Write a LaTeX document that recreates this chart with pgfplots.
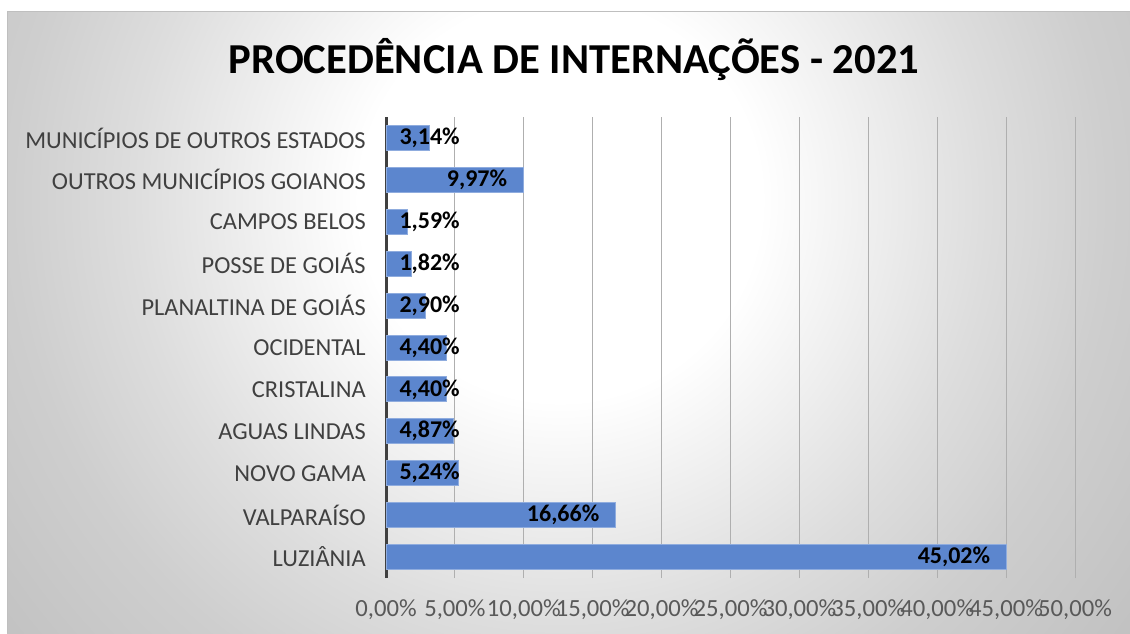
\documentclass[border=0pt]{standalone}
\usepackage{pgfplots}
\pgfplotsset{compat=1.18}
\usepackage{pgfplotstable}
\usepackage{fontspec}
\setmainfont{Carlito}

\definecolor{barfill}{RGB}{92,134,206}
\definecolor{baredge}{RGB}{143,172,222}
\definecolor{gridc}{RGB}{175,175,175}
\definecolor{axc}{RGB}{64,64,64}
\definecolor{catc}{RGB}{64,64,64}
\definecolor{tickc}{RGB}{89,89,89}
\definecolor{bgA}{RGB}{221,221,221}
\definecolor{bgB}{RGB}{206,206,206}
\definecolor{bgC}{RGB}{194,194,194}
\definecolor{bordc}{RGB}{191,191,191}

% radii in bp (1 px of the reference = 0.75 pt)
\pgfdeclareradialshading{panelshade}{\pgfpoint{0bp}{0bp}}{%
  color(0bp)=(white); color(150bp)=(white); color(320bp)=(bgA);
  color(410bp)=(bgB); color(530bp)=(bgC); color(750bp)=(bgC)}

\pgfplotsset{/pgf/number format/assume math mode=true}

% y = row from the bottom, v = share in %
\pgfplotstableread{
y v
0 45.02
1 16.66
2 5.24
3 4.87
4 4.40
5 4.40
6 2.90
7 1.82
8 1.59
9 9.97
10 3.14
}\procdata

\begin{document}
\begin{tikzpicture}
\begin{scope}[x=0.75pt,y=0.75pt]
\useasboundingbox (0,0) rectangle (1130,633);
% panel with soft radial gradient
\begin{scope}
  \clip (7,0) rectangle (1130,621);
  \node[inner sep=0pt] at (560,433) {\pgfuseshading{panelshade}};
\end{scope}
\draw[bordc, line width=0.75pt] (7,0) -- (7,621) -- (1130,621);
\node[font=\bfseries\fontsize{32}{38}\selectfont] at (574,573) {PROCEDÊNCIA DE INTERNAÇÕES - 2021};
\end{scope}

\begin{axis}[
  at={(289.5pt,41.25pt)}, anchor=south west,
  scale only axis, width=516.75pt, height=345.75pt,
  xmin=0, xmax=50, ymin=-0.5, ymax=10.5,
  xtick={0,5,...,50}, ytick={0,...,10},
  yticklabels={LUZIÂNIA, VALPARAÍSO, NOVO GAMA, AGUAS LINDAS, CRISTALINA, OCIDENTAL,
    PLANALTINA DE GOIÁS, POSSE DE GOIÁS, CAMPOS BELOS, OUTROS MUNICÍPIOS GOIANOS,
    MUNICÍPIOS DE OUTROS ESTADOS},
  xticklabel={\pgfmathprintnumber[fixed,fixed zerofill,precision=2,use comma]{\tick}\%},
  axis x line*=bottom, axis y line*=left,
  x axis line style={draw=none},
  y axis line style={draw=axc, line width=2.25pt},
  major tick length=0pt,
  xmajorgrids, major grid style={gridc, line width=0.75pt},
  xticklabel style={font=\fontsize{18.5}{22}\selectfont, text=tickc, inner sep=0pt, anchor=north, yshift=-16pt},
  yticklabel style={font=\fontsize{18.3}{22}\selectfont, text=catc, inner sep=0pt, anchor=east, xshift=-15pt},
]
\addplot[xbar, bar width=18.75pt, bar shift=0pt, fill=barfill, draw=baredge, line width=0.75pt]
  table[x=v, y=y] {\procdata};
% value labels: inside the bar end, or from the base when the bar is short
\addplot[draw=none, mark=none, point meta=explicit,
  nodes near coords={\pgfmathprintnumber[fixed,fixed zerofill,precision=2,use comma]{\pgfplotspointmeta}\%},
  nodes near coords style={font=\bfseries\fontsize{18}{22}\selectfont, text=black, anchor=east, inner sep=0pt, xshift=-12pt}]
  table[x expr={max(\thisrow{v},6.53)}, y=y, meta=v] {\procdata};
\end{axis}
\end{tikzpicture}
\end{document}
